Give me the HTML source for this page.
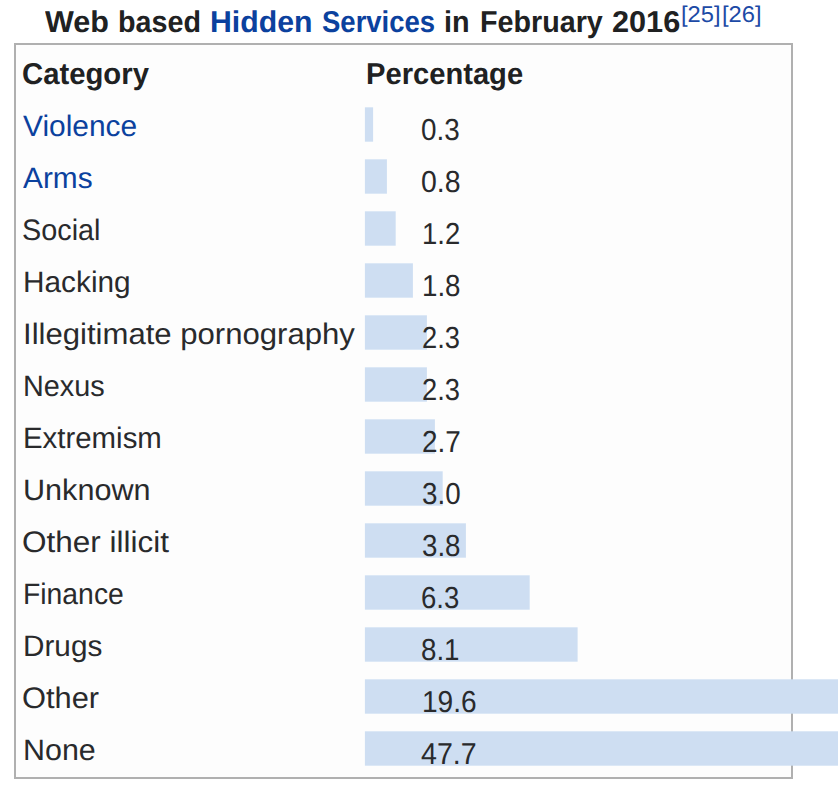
<!DOCTYPE html>
<html><head><meta charset="utf-8"><title>Web based Hidden Services</title>
<style>
html,body{margin:0;padding:0;background:#fff;}
body{width:838px;height:788px;position:relative;overflow:hidden;font-family:"Liberation Sans",sans-serif;}
.box{position:absolute;left:14px;top:43px;width:775px;height:732px;border:2px solid #b0b0b0;background:#fdfdfd;}
.t{position:absolute;white-space:nowrap;transform-origin:0 0;margin:0;padding:0;line-height:40px;text-rendering:geometricPrecision;}
.bars{position:absolute;left:0;top:0;}
</style></head><body>
<div class="box"></div>
<svg class="bars" width="838" height="788" viewBox="0 0 838 788">
<rect x="364.9" y="107.30" width="8.2" height="34.4" fill="#cedef2"/>
<rect x="364.9" y="159.30" width="22" height="34.4" fill="#cedef2"/>
<rect x="364.9" y="211.30" width="30.8" height="34.4" fill="#cedef2"/>
<rect x="364.9" y="263.30" width="48" height="34.4" fill="#cedef2"/>
<rect x="364.9" y="315.30" width="62" height="34.4" fill="#cedef2"/>
<rect x="364.9" y="367.30" width="62" height="34.4" fill="#cedef2"/>
<rect x="364.9" y="419.30" width="70" height="34.4" fill="#cedef2"/>
<rect x="364.9" y="471.30" width="77.8" height="34.4" fill="#cedef2"/>
<rect x="364.9" y="523.30" width="101" height="34.4" fill="#cedef2"/>
<rect x="364.9" y="575.30" width="164.8" height="34.4" fill="#cedef2"/>
<rect x="364.9" y="627.30" width="212.7" height="34.4" fill="#cedef2"/>
<rect x="364.9" y="679.30" width="480" height="34.4" fill="#cedef2"/>
<rect x="364.9" y="731.30" width="480" height="34.4" fill="#cedef2"/>
</svg>
<div class="t" style="left:44.70px;top:3px;font-size:30.2px;font-weight:700;color:#202122;transform:scaleX(1.0122)">Web</div>
<div class="t" style="left:117.95px;top:3px;font-size:30.2px;font-weight:700;color:#202122;transform:scaleX(0.9516)">based</div>
<a class="t" style="left:210.00px;top:3px;font-size:30.2px;font-weight:700;color:#0b419e;transform:scaleX(1.0015)">Hidden</a>
<a class="t" style="left:321.70px;top:3px;font-size:30.2px;font-weight:700;color:#0b419e;transform:scaleX(0.9107)">Services</a>
<div class="t" style="left:443.79px;top:3px;font-size:30.2px;font-weight:700;color:#202122;transform:scaleX(0.9535)">in</div>
<div class="t" style="left:480.00px;top:3px;font-size:30.2px;font-weight:700;color:#202122;transform:scaleX(0.9506)">February</div>
<div class="t" style="left:611.88px;top:3px;font-size:30.2px;font-weight:700;color:#202122;transform:scaleX(1.0158)">2016</div>
<a class="t" style="left:681.46px;top:-6px;font-size:22.8px;font-weight:400;color:#1c4aa6;transform:scaleX(1.0395)">[25]</a>
<a class="t" style="left:721.86px;top:-6px;font-size:22.8px;font-weight:400;color:#1c4aa6;transform:scaleX(1.0395)">[26]</a>
<div class="t" style="left:22.13px;top:55px;font-size:30.2px;font-weight:700;color:#202122;transform:scaleX(0.9700)">Category</div>
<div class="t" style="left:366.17px;top:55px;font-size:30.2px;font-weight:700;color:#202122;transform:scaleX(0.9652)">Percentage</div>
<a class="t" style="left:22.50px;top:107px;font-size:29.6px;font-weight:400;color:#0b419e;transform:scaleX(1.0109)">Violence</a>
<a class="t" style="left:22.50px;top:159px;font-size:29.6px;font-weight:400;color:#0b419e;transform:scaleX(1.0074)">Arms</a>
<div class="t" style="left:22.28px;top:211px;font-size:29.6px;font-weight:400;color:#292a2c;transform:scaleX(0.9740)">Social</div>
<div class="t" style="left:23.09px;top:263px;font-size:29.6px;font-weight:400;color:#292a2c;transform:scaleX(1.0067)">Hacking</div>
<div class="t" style="left:23.00px;top:315px;font-size:29.6px;font-weight:400;color:#292a2c;transform:scaleX(1.0505)">Illegitimate pornography</div>
<div class="t" style="left:22.85px;top:367px;font-size:29.6px;font-weight:400;color:#292a2c;transform:scaleX(0.9737)">Nexus</div>
<div class="t" style="left:22.81px;top:419px;font-size:29.6px;font-weight:400;color:#292a2c;transform:scaleX(0.9934)">Extremism</div>
<div class="t" style="left:22.73px;top:471px;font-size:29.6px;font-weight:400;color:#292a2c;transform:scaleX(1.0336)">Unknown</div>
<div class="t" style="left:21.94px;top:523px;font-size:29.6px;font-weight:400;color:#292a2c;transform:scaleX(1.0646)">Other illicit</div>
<div class="t" style="left:22.89px;top:575px;font-size:29.6px;font-weight:400;color:#292a2c;transform:scaleX(0.9575)">Finance</div>
<div class="t" style="left:22.79px;top:627px;font-size:29.6px;font-weight:400;color:#292a2c;transform:scaleX(1.0040)">Drugs</div>
<div class="t" style="left:21.96px;top:679px;font-size:29.6px;font-weight:400;color:#292a2c;transform:scaleX(1.0423)">Other</div>
<div class="t" style="left:22.74px;top:731px;font-size:29.6px;font-weight:400;color:#292a2c;transform:scaleX(1.0280)">None</div>
<div class="t" style="left:420.98px;top:111px;font-size:30.3px;font-weight:400;color:#292a2c;transform:scaleX(0.9189)">0.3</div>
<div class="t" style="left:420.96px;top:163px;font-size:30.3px;font-weight:400;color:#292a2c;transform:scaleX(0.9387)">0.8</div>
<div class="t" style="left:421.99px;top:215px;font-size:30.3px;font-weight:400;color:#292a2c;transform:scaleX(0.9066)">1.2</div>
<div class="t" style="left:421.97px;top:267px;font-size:30.3px;font-weight:400;color:#292a2c;transform:scaleX(0.9143)">1.8</div>
<div class="t" style="left:421.70px;top:319px;font-size:30.3px;font-weight:400;color:#292a2c;transform:scaleX(0.9015)">2.3</div>
<div class="t" style="left:421.70px;top:371px;font-size:30.3px;font-weight:400;color:#292a2c;transform:scaleX(0.9015)">2.3</div>
<div class="t" style="left:421.68px;top:423px;font-size:30.3px;font-weight:400;color:#292a2c;transform:scaleX(0.9213)">2.7</div>
<div class="t" style="left:422.18px;top:475px;font-size:30.3px;font-weight:400;color:#292a2c;transform:scaleX(0.9164)">3.0</div>
<div class="t" style="left:421.99px;top:527px;font-size:30.3px;font-weight:400;color:#292a2c;transform:scaleX(0.9139)">3.8</div>
<div class="t" style="left:421.39px;top:579px;font-size:30.3px;font-weight:400;color:#292a2c;transform:scaleX(0.9089)">6.3</div>
<div class="t" style="left:421.38px;top:631px;font-size:30.3px;font-weight:400;color:#292a2c;transform:scaleX(0.9150)">8.1</div>
<div class="t" style="left:422.15px;top:683px;font-size:30.3px;font-weight:400;color:#292a2c;transform:scaleX(0.9266)">19.6</div>
<div class="t" style="left:421.10px;top:735px;font-size:30.3px;font-weight:400;color:#292a2c;transform:scaleX(0.9446)">47.7</div>
</body></html>
